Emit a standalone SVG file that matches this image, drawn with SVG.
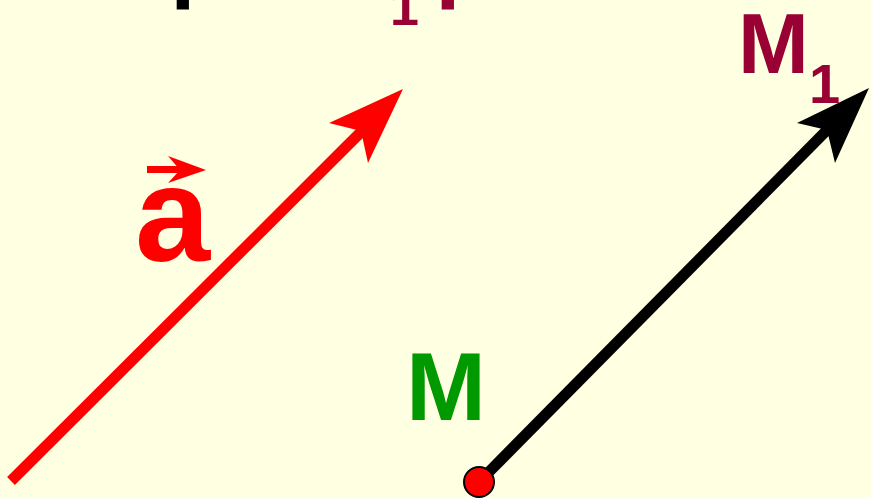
<svg xmlns="http://www.w3.org/2000/svg" width="871" height="498" viewBox="0 0 871 498">
<style>
text{font-family:"Liberation Sans",Arial,sans-serif;font-weight:bold}
.red{fill:#ff0000}
.maroon{fill:#990033}
</style>
<rect width="871" height="498" fill="#ffffe1"/>
<g id="top-labels">
<text x="171" y="10" font-size="85" fill="#000">P</text>
<text x="390" y="25" font-size="52" class="maroon">1</text>
<text x="436" y="10" font-size="85" class="maroon">P</text>
</g>
<g id="connectors">
<g id="vector-a">
<line x1="11" y1="481" x2="366" y2="127" stroke="#ff0000" stroke-width="11"/>
<polygon points="403,89 329,123 361,131 368,163" fill="#ff0000"/>
</g>
<g id="vector-MM1">
<line x1="479" y1="482" x2="831" y2="126" stroke="#000" stroke-width="11"/>
<polygon points="869,88 797,123 827,130 835,163" fill="#000"/>
</g>
</g>
<g id="label-a">
<text x="135" y="261" font-size="135" class="red">a</text>
<rect x="147" y="166" width="36" height="7" fill="#ff0000"/>
<polygon points="206,170 168,156 180,170 168,183" fill="#ff0000"/>
</g>
<g id="point-M">
<text x="406" y="420" font-size="96" fill="#009900">M</text>
<circle cx="479" cy="482" r="15" fill="#ff0000" stroke="#000" stroke-width="2"/>
</g>
<g id="point-M1">
<text x="738" y="73" font-size="85" class="maroon">M</text>
<text x="809" y="103" font-size="56" class="maroon">1</text>
</g>
</svg>
